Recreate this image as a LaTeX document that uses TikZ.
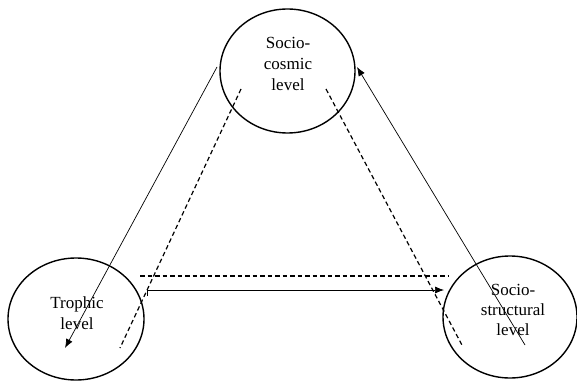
\documentclass[tikz,border=0pt]{standalone}
\usepackage{fontspec}
\setmainfont{Liberation Serif}
\usetikzlibrary{shapes.geometric,arrows.meta}
\begin{document}
\begin{tikzpicture}[x=1pt,y=-1pt,
  level/.style={draw,ellipse,line width=1.4pt,inner sep=0pt},
  lbl/.style={align=center,font=\fontsize{17}{21}\selectfont},
  solidlink/.style={line width=0.7pt},
  dashlink/.style={line width=1.2pt,dash pattern=on 4.5pt off 3pt},
  tip/.style={-{Latex[length=9pt,width=7pt]}}]
\useasboundingbox (0,0) rectangle (577,382);
\node[level,minimum width=135pt,minimum height=124pt] (cos) at (287.5,71) {};
\node[level,minimum width=136pt,minimum height=122pt] (tro) at (76,319) {};
\node[level,minimum width=134pt,minimum height=122pt] (str) at (510,317) {};
\node[lbl] (cost) at (288,64) {Socio-\\cosmic\\level};
\node[lbl] (trot) at (77,313) {Trophic\\level};
\node[lbl,font=\fontsize{17}{20}\selectfont] (strt) at (513,310) {Socio-\\structural\\level};
% coordinates
\coordinate (a1) at (217,67);
\coordinate (a2) at (65,348);
\coordinate (b1) at (241,89);
\coordinate (b2) at (120,348);
\coordinate (c1) at (326,89);
\coordinate (c2) at (463,347);
\coordinate (d1) at (525,345);
\coordinate (d2) at (357,67);
\coordinate (e1) at (140,276);
\coordinate (e2) at (448,276);
\coordinate (f0) at (147,296);
\coordinate (f1) at (147,290);
\coordinate (f2) at (444,290);
\draw[solidlink,tip] (a1) -- (a2);
\draw[dashlink] (b1) -- (b2);
\draw[dashlink] (c1) -- (c2);
\draw[solidlink,tip] (d1) -- (d2);
\draw[dashlink] (e1) -- (e2);
\draw[solidlink,tip] (f0) -- (f1) -- (f2);
\end{tikzpicture}
\end{document}
